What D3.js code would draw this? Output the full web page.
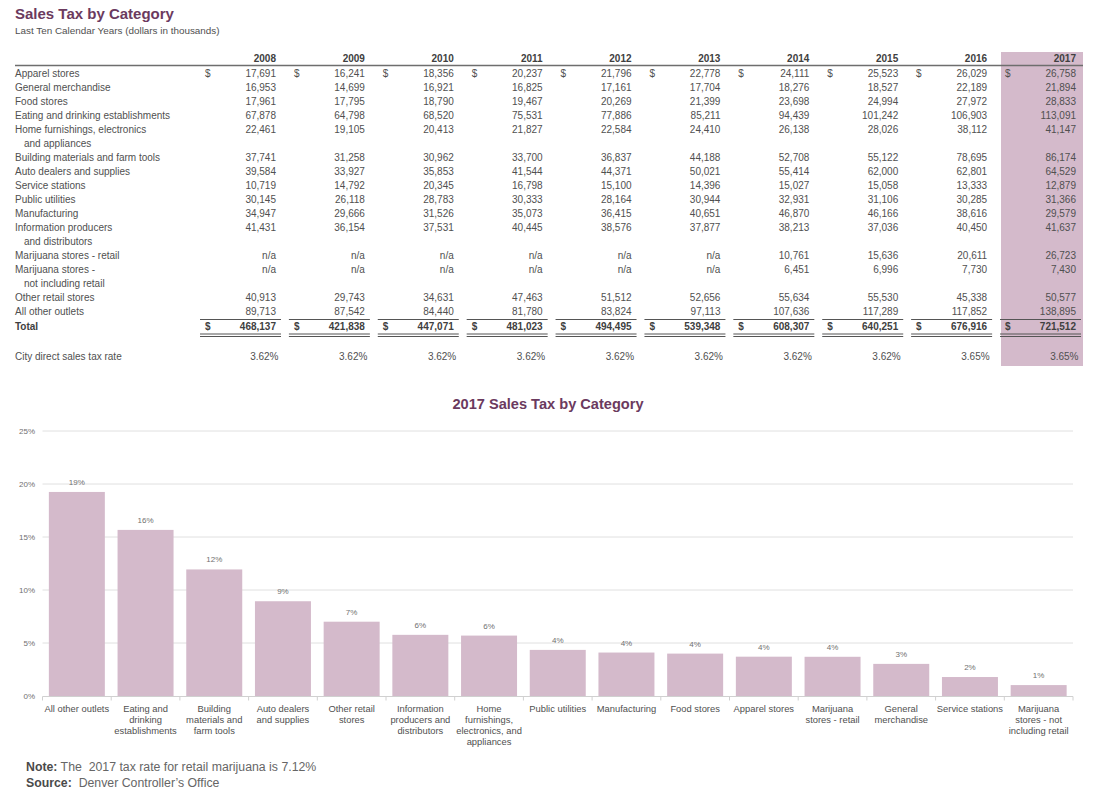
<!DOCTYPE html>
<html>
<head>
<meta charset="utf-8">
<script src="https://cdn.jsdelivr.net/npm/d3@7"></script>
<style>
  html, body { margin: 0; padding: 0; background: #fff; }
  svg { display: block; font-family: "Liberation Sans", Arial, sans-serif; }
</style>
</head>
<body>
<svg id="chart" width="1100" height="797"></svg>
<script>
// ---------- DATA ----------
const years = [2008, 2009, 2010, 2011, 2012, 2013, 2014, 2015, 2016, 2017];

const rowLabels = [
  ["Apparel stores"],
  ["General merchandise"],
  ["Food stores"],
  ["Eating and drinking establishments"],
  ["Home furnishings, electronics", "and appliances"],
  ["Building materials and farm tools"],
  ["Auto dealers and supplies"],
  ["Service stations"],
  ["Public utilities"],
  ["Manufacturing"],
  ["Information producers", "and distributors"],
  ["Marijuana stores - retail"],
  ["Marijuana stores -", "not including retail"],
  ["Other retail stores"],
  ["All other outlets"]
];

const rowValues = [
  [17691, 16241, 18356, 20237, 21796, 22778, 24111, 25523, 26029, 26758],
  [16953, 14699, 16921, 16825, 17161, 17704, 18276, 18527, 22189, 21894],
  [17961, 17795, 18790, 19467, 20269, 21399, 23698, 24994, 27972, 28833],
  [67878, 64798, 68520, 75531, 77886, 85211, 94439, 101242, 106903, 113091],
  [22461, 19105, 20413, 21827, 22584, 24410, 26138, 28026, 38112, 41147],
  [37741, 31258, 30962, 33700, 36837, 44188, 52708, 55122, 78695, 86174],
  [39584, 33927, 35853, 41544, 44371, 50021, 55414, 62000, 62801, 64529],
  [10719, 14792, 20345, 16798, 15100, 14396, 15027, 15058, 13333, 12879],
  [30145, 26118, 28783, 30333, 28164, 30944, 32931, 31106, 30285, 31366],
  [34947, 29666, 31526, 35073, 36415, 40651, 46870, 46166, 38616, 29579],
  [41431, 36154, 37531, 40445, 38576, 37877, 38213, 37036, 40450, 41637],
  [null, null, null, null, null, null, 10761, 15636, 20611, 26723],
  [null, null, null, null, null, null, 6451, 6996, 7730, 7430],
  [40913, 29743, 34631, 47463, 51512, 52656, 55634, 55530, 45338, 50577],
  [89713, 87542, 84440, 81780, 83824, 97113, 107636, 117289, 117852, 138895]
];

const totals = [468137, 421838, 447071, 481023, 494495, 539348, 608307, 640251, 676916, 721512];
const taxRates = ["3.62%", "3.62%", "3.62%", "3.62%", "3.62%", "3.62%", "3.62%", "3.62%", "3.65%", "3.65%"];

// 2017 chart
const barCategories = [
  "All other outlets", "Eating and drinking establishments", "Building materials and farm tools",
  "Auto dealers and supplies", "Other retail stores", "Information producers and distributors",
  "Home furnishings, electronics, and appliances", "Public utilities", "Manufacturing",
  "Food stores", "Apparel stores", "Marijuana stores - retail", "General merchandise",
  "Service stations", "Marijuana stores - not including retail"
];
const barLabelLines = [
  ["All other outlets"], ["Eating and", "drinking", "establishments"], ["Building", "materials and", "farm tools"],
  ["Auto dealers", "and supplies"], ["Other retail", "stores"], ["Information", "producers and", "distributors"],
  ["Home", "furnishings,", "electronics, and", "appliances"], ["Public utilities"], ["Manufacturing"],
  ["Food stores"], ["Apparel stores"], ["Marijuana", "stores - retail"], ["General", "merchandise"],
  ["Service stations"], ["Marijuana", "stores - not", "including retail"]
];
const barShares = [19.25, 15.67, 11.94, 8.94, 7.01, 5.77, 5.70, 4.35, 4.10, 4.00, 3.71, 3.70, 3.03, 1.79, 1.03];
const yTicks = [0, 5, 10, 15, 20, 25];

// ---------- STYLE ----------
const plum = "#6b3a5e";
const shade = "#d4bacb";
const textCol = "#505050";
const fmt = d3.format(",");

const svg = d3.select("#chart");

// ---------- HEADER ----------
svg.append("text").attr("x", 15).attr("y", 19)
  .attr("font-size", 15).attr("font-weight", "bold").attr("fill", plum)
  .text("Sales Tax by Category");
svg.append("text").attr("x", 15).attr("y", 34)
  .attr("font-size", 9.9).attr("fill", textCol)
  .text("Last Ten Calendar Years (dollars in thousands)");

// ---------- TABLE ----------
const colX = d3.scalePoint().domain(years).range([276, 1076]);
const lineY = d3.scaleLinear().domain([0, 1]).range([76.5, 90.5]); // baseline for line index

const rowLine = [];
let li = 0;
rowLabels.forEach(l => { rowLine.push(li); li += l.length; });
const totalLine = li;
const rateLine = totalLine + 2.25;

// shaded 2017 column
svg.append("rect")
  .attr("x", colX(2017) - 75).attr("y", 52)
  .attr("width", 82).attr("height", 314)
  .attr("fill", shade);

// header years
svg.append("g").selectAll("text").data(years).join("text")
  .attr("x", d => colX(d)).attr("y", 61.5)
  .attr("text-anchor", "end").attr("font-size", 10).attr("font-weight", "bold")
  .attr("fill", "#404040").text(d => d);

svg.append("line").attr("x1", 15).attr("x2", 1083).attr("y1", 65.5).attr("y2", 65.5)
  .attr("stroke", "#6e6e6e").attr("stroke-width", 1.5);

const tbl = svg.append("g").attr("font-size", 10).attr("fill", textCol);

rowLabels.forEach((lines, i) => {
  lines.forEach((t, j) => {
    tbl.append("text").attr("x", j === 0 ? 15 : 24).attr("y", lineY(rowLine[i] + j)).text(t);
  });
});

rowValues.forEach((vals, i) => {
  vals.forEach((v, k) => {
    const yr = years[k];
    tbl.append("text").attr("x", colX(yr)).attr("y", lineY(rowLine[i]))
      .attr("text-anchor", "end").text(v == null ? "n/a" : fmt(v));
    if (i === 0) {
      tbl.append("text").attr("x", colX(yr) - 71).attr("y", lineY(rowLine[i])).text("$");
    }
  });
});

// total row
const totY = lineY(totalLine) + 1;
tbl.append("text").attr("x", 15).attr("y", totY).attr("font-weight", "bold")
  .attr("fill", "#404040").text("Total");
totals.forEach((v, k) => {
  const r = colX(years[k]);
  tbl.append("text").attr("x", r).attr("y", totY).attr("text-anchor", "end")
    .attr("font-weight", "bold").attr("fill", "#404040").text(fmt(v));
  tbl.append("text").attr("x", r - 71).attr("y", totY)
    .attr("font-weight", "bold").attr("fill", "#404040").text("$");
  const yTop = totY - 10;
  tbl.append("line").attr("x1", r - 76).attr("x2", r + 5).attr("y1", yTop).attr("y2", yTop)
    .attr("stroke", "#555").attr("stroke-width", 1);
  [totY + 4.5, totY + 7].forEach(yy => {
    tbl.append("line").attr("x1", r - 76).attr("x2", r + 5).attr("y1", yy).attr("y2", yy)
      .attr("stroke", "#555").attr("stroke-width", 1.1);
  });
});

// rate row
tbl.append("text").attr("x", 15).attr("y", lineY(rateLine)).text("City direct sales tax rate");
taxRates.forEach((v, k) => {
  tbl.append("text").attr("x", colX(years[k]) + 2.5).attr("y", lineY(rateLine))
    .attr("text-anchor", "end").text(v);
});

// ---------- BAR CHART ----------
svg.append("text").attr("x", 548).attr("y", 409).attr("text-anchor", "middle")
  .attr("font-size", 14.6).attr("font-weight", "bold").attr("fill", plum)
  .text("2017 Sales Tax by Category");

const x = d3.scaleBand().domain(barCategories).range([42.5, 1073])
  .paddingInner(0.185).paddingOuter(0.0925);
const y = d3.scaleLinear().domain([0, 25]).range([696, 431]);

svg.append("g").selectAll("line").data(yTicks.filter(d => d > 0)).join("line")
  .attr("x1", 42.5).attr("x2", 1073)
  .attr("y1", d => y(d)).attr("y2", d => y(d))
  .attr("stroke", "#e0e0e0").attr("stroke-width", 1);

svg.append("g").selectAll("text").data(yTicks).join("text")
  .attr("x", 35).attr("y", d => y(d) + 3).attr("text-anchor", "end")
  .attr("font-size", 8).attr("fill", "#707070").text(d => d + "%");

svg.append("g").selectAll("rect").data(barShares).join("rect")
  .attr("x", (d, i) => x(barCategories[i]))
  .attr("y", d => y(d))
  .attr("width", x.bandwidth())
  .attr("height", d => y(0) - y(d))
  .attr("fill", shade);

svg.append("g").selectAll("text").data(barShares).join("text")
  .attr("x", (d, i) => x(barCategories[i]) + x.bandwidth() / 2)
  .attr("y", d => y(d) - 7)
  .attr("text-anchor", "middle").attr("font-size", 8).attr("fill", "#707070")
  .text(d => Math.round(d) + "%");

svg.append("line").attr("x1", 42.5).attr("x2", 1073).attr("y1", y(0) + 0.5).attr("y2", y(0) + 0.5)
  .attr("stroke", "#d0d0d0").attr("stroke-width", 1);
const step = x.step();
const bounds = d3.range(barCategories.length + 1).map(i => 42.5 + i * step);
svg.append("g").selectAll("line").data(bounds).join("line")
  .attr("x1", d => d).attr("x2", d => d)
  .attr("y1", y(0) + 0.5).attr("y2", y(0) + 4.5)
  .attr("stroke", "#d0d0d0").attr("stroke-width", 1);

const cl = svg.append("g").attr("font-size", 9.4).attr("fill", "#505050").attr("text-anchor", "middle");
barCategories.forEach((c, i) => {
  const cx = x(c) + x.bandwidth() / 2;
  barLabelLines[i].forEach((t, j) => {
    cl.append("text").attr("x", cx).attr("y", 711.5 + j * 11.2).text(t);
  });
});

// ---------- NOTES ----------
const note = svg.append("text").attr("x", 26).attr("y", 771).attr("font-size", 12.3)
  .attr("fill", "#666").style("white-space", "pre");
note.append("tspan").attr("font-weight", "bold").attr("fill", "#4a4a4a").text("Note:");
note.append("tspan").text(" The  2017 tax rate for retail marijuana is 7.12%");

const src = svg.append("text").attr("x", 26).attr("y", 786.5).attr("font-size", 12.3)
  .attr("fill", "#666").style("white-space", "pre");
src.append("tspan").attr("font-weight", "bold").attr("fill", "#4a4a4a").text("Source:");
src.append("tspan").text("  Denver Controller’s Office");
</script>
</body>
</html>
